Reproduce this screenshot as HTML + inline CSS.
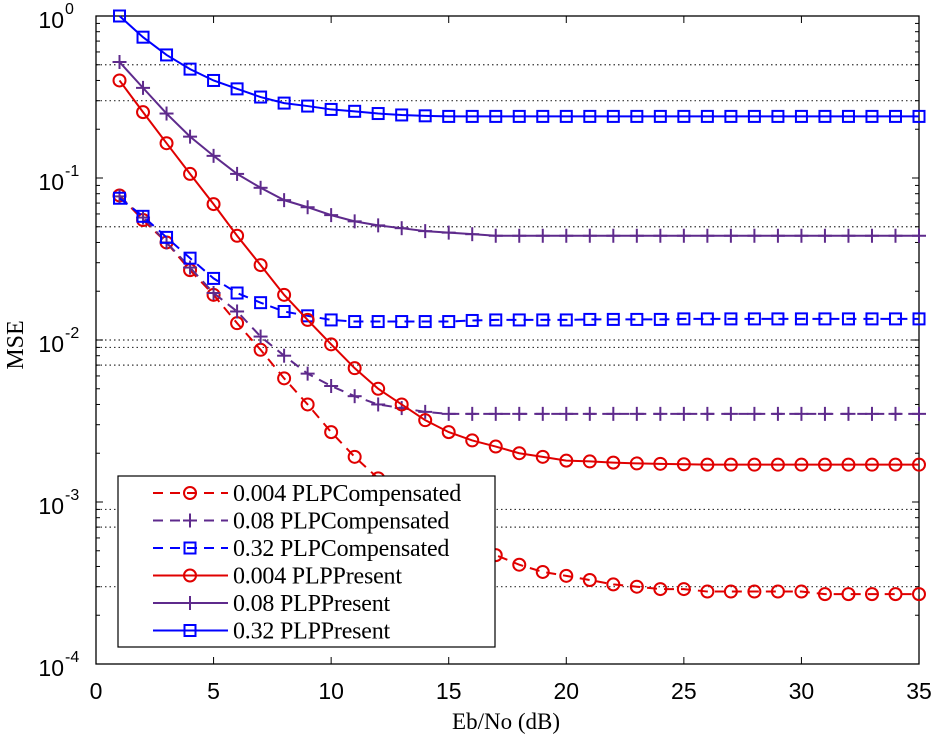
<!DOCTYPE html>
<html><head><meta charset="utf-8"><style>
body{margin:0;background:#fff;}
svg{display:block;font-family:"Liberation Sans",sans-serif;}
</style></head><body>
<svg id="chart" width="935" height="740"></svg>
<script>
const xs = [];
for (let i = 1; i <= 35; i++) xs.push(i);
const redComp = [0.078,0.055,0.04,0.027,0.019,0.0127,0.0087,0.0058,0.004,0.0027,0.0019,0.0014,0.0012,0.00095,0.00077,0.0006,0.00047,0.00041,0.00037,0.00035,0.00033,0.00031,0.0003,0.00029,0.00029,0.00028,0.00028,0.00028,0.00028,0.00028,0.00027,0.00027,0.00027,0.00027,0.00027];
const purpleComp = [0.077,0.057,0.04,0.028,0.0195,0.015,0.0105,0.008,0.0062,0.0052,0.0045,0.004,0.0038,0.0036,0.0035,0.0035,0.0035,0.0035,0.0035,0.0035,0.0035,0.0035,0.0035,0.0035,0.0035,0.0035,0.0035,0.0035,0.0035,0.0035,0.0035,0.0035,0.0035,0.0035,0.0035];
const blueComp = [0.075,0.058,0.043,0.032,0.024,0.0195,0.017,0.015,0.0141,0.0133,0.013,0.013,0.013,0.013,0.013,0.0132,0.0133,0.0133,0.0133,0.0133,0.0134,0.0134,0.0134,0.0134,0.0135,0.0135,0.0135,0.0135,0.0135,0.0135,0.0135,0.0135,0.0135,0.0135,0.0135];
const redPres = [0.40,0.255,0.164,0.106,0.069,0.044,0.029,0.019,0.0133,0.0094,0.0067,0.005,0.004,0.0032,0.0027,0.0024,0.0022,0.002,0.0019,0.0018,0.00178,0.00175,0.00173,0.00172,0.00171,0.0017,0.0017,0.0017,0.0017,0.0017,0.0017,0.0017,0.0017,0.0017,0.0017];
const purplePres = [0.52,0.36,0.25,0.18,0.137,0.106,0.087,0.073,0.066,0.059,0.054,0.051,0.049,0.047,0.046,0.045,0.044,0.044,0.044,0.044,0.044,0.044,0.044,0.044,0.044,0.044,0.044,0.044,0.044,0.044,0.044,0.044,0.044,0.044,0.044];
const bluePres = [1.0,0.74,0.575,0.47,0.40,0.355,0.316,0.29,0.278,0.265,0.258,0.25,0.245,0.242,0.24,0.24,0.24,0.24,0.24,0.24,0.24,0.24,0.24,0.24,0.24,0.24,0.24,0.24,0.24,0.24,0.24,0.24,0.24,0.24,0.24];
const refLines = [0.5,0.3,0.05,0.01,0.009,0.007,0.0009,0.0007,0.0003];
const xTicks = [0,5,10,15,20,25,30,35];
const yExps = [0,-1,-2,-3,-4];

const L=96,R=919,T=16,B=664;
const xScale = v => L + (v/35)*(R-L);
const yScale = v => T + (-Math.log10(v))/4*(B-T);
const NS="http://www.w3.org/2000/svg";
const svg=document.getElementById('chart');
function mk(tag,attrs,parent){const e=document.createElementNS(NS,tag);for(const k in attrs)e.setAttribute(k,attrs[k]);(parent||svg).appendChild(e);return e;}

refLines.forEach(v=>{
  const l=mk('line',{x1:L,x2:R,y1:yScale(v),y2:yScale(v),stroke:'#333','stroke-width':1.2,'stroke-dasharray':'1.5 3'});
  
  
});

const box=mk('rect',{x:L,y:T,width:R-L,height:B-T,fill:'none',stroke:'#000','stroke-width':1.3});



xTicks.forEach(v=>{
  const x=xScale(v);
  mk('line',{x1:x,x2:x,y1:B,y2:B-7,stroke:'#000','stroke-width':1});
  mk('line',{x1:x,x2:x,y1:T,y2:T+7,stroke:'#000','stroke-width':1});
  const t=mk('text',{x:x,y:699,'text-anchor':'middle','font-size':23,fill:'#000'});
  t.textContent=v;
  
  
});
yExps.forEach(e=>{
  const y=yScale(Math.pow(10,e));
  mk('line',{x1:L,x2:L+7,y1:y,y2:y,stroke:'#000','stroke-width':1});
  mk('line',{x1:R,x2:R-7,y1:y,y2:y,stroke:'#000','stroke-width':1});
  const t=mk('text',{x:64,y:y+12,'text-anchor':'end','font-size':23,fill:'#000'});
  t.textContent='10';
  
  
  const s=mk('text',{x:65,y:y-2,'text-anchor':'start','font-size':16,fill:'#000'});
  s.textContent=String(e);
  if(e<0){
    for(let m=2;m<=9;m++){
      const yy=yScale(m*Math.pow(10,e));
      mk('line',{x1:L,x2:L+4,y1:yy,y2:yy,stroke:'#000','stroke-width':1});
      mk('line',{x1:R,x2:R-4,y1:yy,y2:yy,stroke:'#000','stroke-width':1});
    }
  }
});

function marker(g,type,x,y,color){
  if(type==='o') mk('circle',{cx:x,cy:y,r:6,fill:'none',stroke:color,'stroke-width':2},g);
  else if(type==='s') mk('rect',{x:x-5.5,y:y-5.5,width:11,height:11,fill:'none',stroke:color,'stroke-width':2},g);
  else {mk('line',{x1:x-7,x2:x+7,y1:y,y2:y,stroke:color,'stroke-width':2},g);mk('line',{x1:x,x2:x,y1:y-7,y2:y+7,stroke:color,'stroke-width':2},g);}
}
const series=[
  [redComp,'#e00000','o',true,'series-0.004-compensated'],
  [purpleComp,'#5e2a8c','+',true,'series-0.08-compensated'],
  [blueComp,'#0000ff','s',true,'series-0.32-compensated'],
  [redPres,'#e00000','o',false,'series-0.004-present'],
  [purplePres,'#5e2a8c','+',false,'series-0.08-present'],
  [bluePres,'#0000ff','s',false,'series-0.32-present']
];
series.forEach(([d,c,m,dash,name])=>{
  const g=mk('g',{});
  
  
  const pts=d.map((v,i)=>xScale(xs[i])+','+yScale(v)).join(' ');
  const a={points:pts,fill:'none',stroke:c,'stroke-width':2};
  if(dash)a['stroke-dasharray']='10 7';
  mk('polyline',a,g);
  d.forEach((v,i)=>marker(g,m,xScale(xs[i]),yScale(v),c));
});

const lg=mk('g',{});


mk('rect',{x:118,y:476,width:377,height:171,fill:'#fff',stroke:'#000','stroke-width':1.2},lg);
const labels=['0.004 PLPCompensated','0.08 PLPCompensated','0.32 PLPCompensated','0.004 PLPPresent','0.08 PLPPresent','0.32 PLPPresent'];
series.forEach(([d,c,m,dash],i)=>{
  const y=493+i*27.5;
  const e=mk('g',{},lg);
  
  
  const a={x1:153,x2:228,y1:y,y2:y,stroke:c,'stroke-width':2};
  if(dash)a['stroke-dasharray']='10 7';
  mk('line',a,e);
  marker(e,m,190,y,c);
  const t=mk('text',{x:233,y:y+8,'font-size':24,fill:'#000','font-family':'"Liberation Serif",serif','letter-spacing':'-0.2'},e);
  t.textContent=labels[i];
});

const xl=mk('text',{x:506,y:729,'text-anchor':'middle','font-size':23,'font-family':'"Liberation Serif",serif',fill:'#000'});
xl.textContent='Eb/No (dB)';


const yl=mk('text',{x:0,y:0,'text-anchor':'middle','font-size':24,'font-family':'"Liberation Serif",serif',fill:'#000',transform:'translate(23,345) rotate(-90)'});
yl.textContent='MSE';


</script>
</body></html>
